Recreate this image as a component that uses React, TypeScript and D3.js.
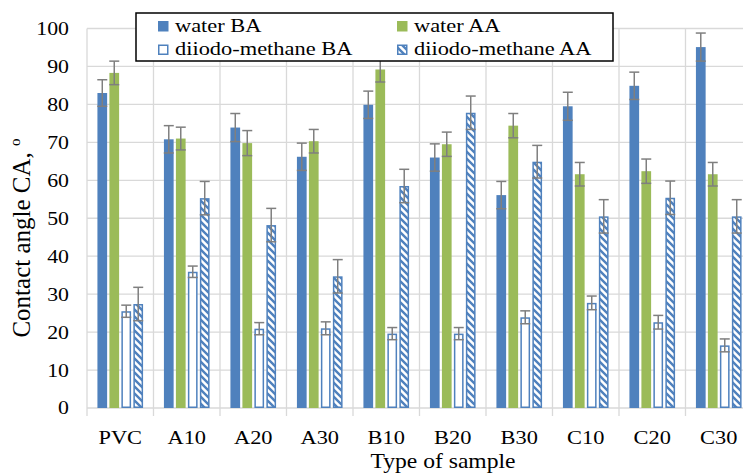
import React from "react";
import * as d3 from "d3";

// Contact angle measurements (degrees) per sample, before (BA) and after (AA)
const samples = ["PVC", "A10", "A20", "A30", "B10", "B20", "B30", "C10", "C20", "C30"];
const seriesNames = ["water BA", "water AA", "diiodo-methane BA", "diiodo-methane AA"];

const waterBA = [83.0, 70.8, 73.9, 66.2, 79.9, 66.0, 56.1, 79.5, 84.9, 95.1];
const waterAA = [88.3, 71.0, 69.8, 70.3, 89.2, 69.5, 74.4, 61.6, 62.4, 61.6];
const diiodoBA = [25.5, 35.9, 20.9, 21.0, 19.6, 19.6, 23.9, 27.7, 22.6, 16.5];
const diiodoAA = [27.4, 55.3, 48.2, 34.7, 58.5, 77.8, 64.9, 50.5, 55.4, 50.5];

const waterBAErr = [3.5, 3.6, 3.7, 3.6, 3.6, 3.6, 3.6, 3.7, 3.6, 3.7];
const waterAAErr = [3.1, 3.0, 3.3, 3.1, 3.3, 3.2, 3.2, 3.1, 3.2, 3.1];
const diiodoBAErr = [1.6, 1.5, 1.6, 1.7, 1.6, 1.6, 1.7, 1.8, 1.8, 1.7];
const diiodoAAErr = [4.4, 4.4, 4.4, 4.4, 4.4, 4.4, 4.3, 4.4, 4.4, 4.4];

const yTicks = [0, 10, 20, 30, 40, 50, 60, 70, 80, 90, 100];

const BLUE = "#4f81bd";
const GREEN = "#9bbb59";
const GRID = "#d9d9d9";
const ERR = "#7f7f7f";
const FONT = "Liberation Serif, Times New Roman, serif";
// glyphs are drawn slightly wide
const SX = 1.18;

const W = 743;
const H = 473;
const plotLeft = 87;
const plotRight = 752;
const plotTop = 28.5;
const plotBottom = 408;

type Style = "solid-blue" | "solid-green" | "outline" | "hatch";
const styles: Style[] = ["solid-blue", "solid-green", "outline", "hatch"];
const values = [waterBA, waterAA, diiodoBA, diiodoAA];
const errors = [waterBAErr, waterAAErr, diiodoBAErr, diiodoAAErr];

function fillFor(s: Style) {
  if (s === "solid-blue") return BLUE;
  if (s === "solid-green") return GREEN;
  if (s === "outline") return "#ffffff";
  return "url(#hatchDown)";
}

function Mark({ s, x, y, w, h }: { s: Style; x: number; y: number; w: number; h: number }) {
  const outlined = s === "outline" || s === "hatch";
  if (outlined) {
    return (
      <rect
        x={x + 0.75}
        y={y + 0.75}
        width={Math.max(0, w - 1.5)}
        height={Math.max(0, h - 1.5)}
        fill={fillFor(s)}
        stroke={BLUE}
        strokeWidth={1.5}
      />
    );
  }
  return <rect x={x} y={y} width={w} height={h} fill={fillFor(s)} />;
}

function Label({
  x,
  y,
  size,
  anchor = "start",
  dy,
  children,
}: {
  x: number;
  y: number;
  size: number;
  anchor?: "start" | "middle" | "end";
  dy?: string;
  children: React.ReactNode;
}) {
  return (
    <text
      transform={`translate(${x},${y}) scale(${SX},1)`}
      textAnchor={anchor}
      dy={dy}
      fontSize={size}
      fontFamily={FONT}
      fill="#000"
    >
      {children}
    </text>
  );
}

export default function App() {
  const x0 = d3.scaleBand<string>().domain(samples).range([plotLeft, plotRight]).padding(0);
  const x1 = d3
    .scaleBand<number>()
    .domain([0, 1, 2, 3])
    .range([0, x0.bandwidth()])
    .paddingInner(0.19)
    .paddingOuter(0.87);
  const y = d3.scaleLinear().domain([0, 100]).range([plotBottom, plotTop]);

  const legendItems = seriesNames.map((name, i) => ({
    name,
    s: styles[i],
    col: i % 2,
    row: Math.floor(i / 2),
  }));

  return (
    <svg width={W} height={H} style={{ position: "absolute", left: 0, top: 0, background: "#fff" }}>
      <defs>
        <pattern id="hatchDown" patternUnits="userSpaceOnUse" width={7} height={7}>
          <rect width={7} height={7} fill="#fff" />
          <path
            d="M-1.75,1.75 L1.75,-1.75 M0,7 L7,0 M5.25,8.75 L8.75,5.25"
            transform="scale(-1,1) translate(-7,0)"
            stroke={BLUE}
            strokeWidth={2.4}
          />
        </pattern>
      </defs>

      {/* horizontal gridlines */}
      {yTicks.map((t) => (
        <line key={`h${t}`} x1={plotLeft} x2={plotRight} y1={y(t)} y2={y(t)} stroke={GRID} strokeWidth={1.3} />
      ))}
      {/* vertical category dividers with tick extensions */}
      {samples.map((c) => (
        <line
          key={`v${c}`}
          x1={x0(c)!}
          x2={x0(c)!}
          y1={plotTop}
          y2={plotBottom + 8}
          stroke={GRID}
          strokeWidth={1.3}
        />
      ))}
      <line x1={plotRight} x2={plotRight} y1={plotTop} y2={plotBottom + 8} stroke={GRID} strokeWidth={1.3} />

      {/* bars */}
      {samples.map((c, ci) => (
        <g key={c}>
          {values.map((vals, si) => {
            const bx = x0(c)! + x1(si)!;
            const bw = x1.bandwidth();
            const v = vals[ci];
            return <Mark key={si} s={styles[si]} x={bx} y={y(v)} w={bw} h={y(0) - y(v)} />;
          })}
        </g>
      ))}

      {/* error bars */}
      {samples.map((c, ci) => (
        <g key={`e${c}`} stroke={ERR} strokeWidth={1.5}>
          {values.map((vals, si) => {
            const cx = x0(c)! + x1(si)! + x1.bandwidth() / 2;
            const v = vals[ci];
            const e = errors[si][ci];
            const hi = y(v + e);
            const lo = y(v - e);
            return (
              <g key={si}>
                <line x1={cx} x2={cx} y1={hi} y2={lo} />
                <line x1={cx - 5} x2={cx + 5} y1={hi} y2={hi} />
                <line x1={cx - 5} x2={cx + 5} y1={lo} y2={lo} />
              </g>
            );
          })}
        </g>
      ))}

      {/* y tick labels */}
      {yTicks.map((t) => (
        <Label key={`yl${t}`} x={69} y={y(t)} dy="0.35em" anchor="end" size={18.5}>
          {t}
        </Label>
      ))}

      {/* x category labels */}
      {samples.map((c) => (
        <Label key={`xl${c}`} x={x0(c)! + x0.bandwidth() / 2} y={444} anchor="middle" size={19}>
          {c}
        </Label>
      ))}

      {/* axis titles */}
      <Label x={443} y={468} anchor="middle" size={20}>
        Type of sample
      </Label>
      <text
        transform="translate(30,238) rotate(-90)"
        textAnchor="middle"
        fontSize={25}
        fontFamily={FONT}
        fill="#000"
      >
        Contact angle CA,{" "}
        <tspan fontSize={15} dy={-10}>
          o
        </tspan>
      </text>

      {/* legend */}
      <g>
        <rect x={136} y={13} width={477} height={48} fill="#fff" stroke="#000" strokeWidth={1.5} />
        {legendItems.map((it) => {
          const mx = it.col === 0 ? 158 : 397;
          const my = it.row === 0 ? 21 : 44.5;
          return (
            <g key={it.name}>
              <Mark s={it.s} x={mx} y={my} w={10.5} h={10.5} />
              <Label x={mx + 17} y={my + 10.5} size={19}>
                {it.name}
              </Label>
            </g>
          );
        })}
      </g>
    </svg>
  );
}
